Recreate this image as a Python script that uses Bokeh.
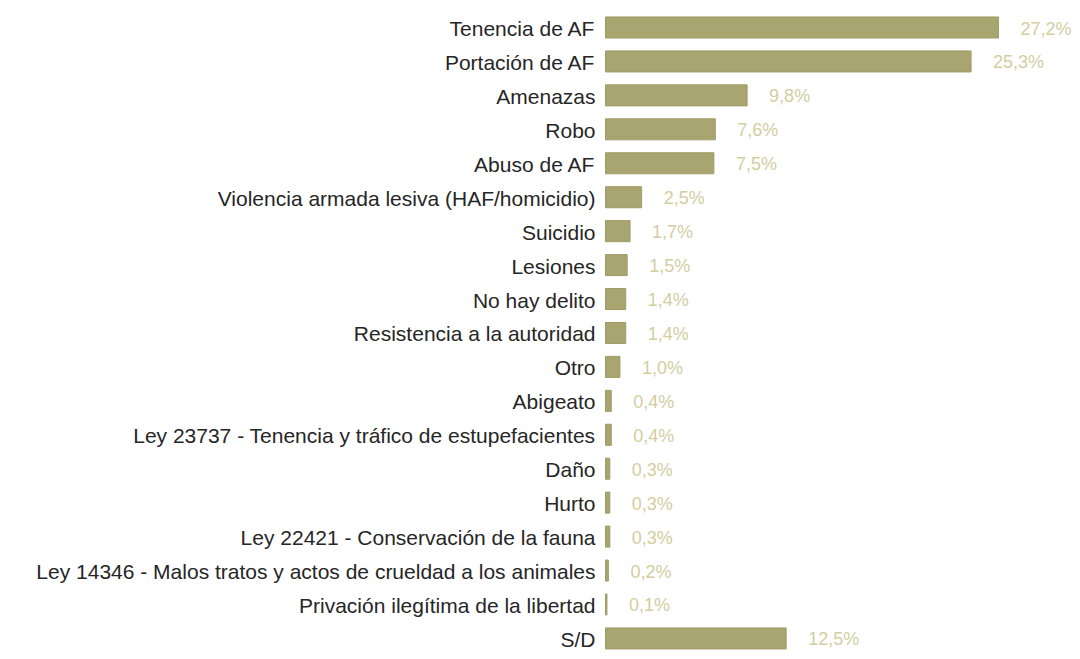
from bokeh.plotting import figure
from bokeh.models import ColumnDataSource, Range1d
from bokeh.core.properties import value
from bokeh.embed import file_html
from bokeh.resources import INLINE

categories = [
    "Tenencia de AF",
    "Portación de AF",
    "Amenazas",
    "Robo",
    "Abuso de AF",
    "Violencia armada lesiva (HAF/homicidio)",
    "Suicidio",
    "Lesiones",
    "No hay delito",
    "Resistencia a la autoridad",
    "Otro",
    "Abigeato",
    "Ley 23737 - Tenencia y tráfico de estupefacientes",
    "Daño",
    "Hurto",
    "Ley 22421 - Conservación de la fauna",
    "Ley 14346 - Malos tratos y actos de crueldad a los animales",
    "Privación ilegítima de la libertad",
    "S/D",
]
values = [27.2, 25.3, 9.8, 7.6, 7.5, 2.5, 1.7, 1.5, 1.4, 1.4, 1.0,
          0.4, 0.4, 0.3, 0.3, 0.3, 0.2, 0.1, 12.5]
value_labels = ["27,2%", "25,3%", "9,8%", "7,6%", "7,5%", "2,5%", "1,7%",
                "1,5%", "1,4%", "1,4%", "1,0%", "0,4%", "0,4%", "0,3%",
                "0,3%", "0,3%", "0,2%", "0,1%", "12,5%"]

rows = list(range(len(categories)))
src = ColumnDataSource(dict(y=rows, v=values, cat=categories, lab=value_labels,
                            zero=[0] * len(rows)))

W, H = 1076, 652
px_per_unit = 14.45
x0_px = 605
row_px = 33.94
top_px = 27

p = figure(width=W, height=H, output_backend="svg", toolbar_location=None,
           x_range=Range1d(-x0_px / px_per_unit, (W - x0_px) / px_per_unit),
           y_range=Range1d((H - top_px) / row_px, -top_px / row_px),
           min_border=0, min_border_left=0, min_border_right=0,
           min_border_top=0, min_border_bottom=0)
p.axis.visible = False
p.grid.visible = False
p.outline_line_color = None
p.background_fill_color = "white"
p.border_fill_color = "white"

p.hbar(y="y", left="zero", right="v", height=0.62, source=src,
       fill_color="#a8a570", line_color="#a09c68", line_width=1)

p.text(x="zero", y="y", text="cat", source=src, x_offset=-10, y_offset=1,
       text_align="right", text_baseline="middle",
       text_font=value("Liberation Sans"), text_font_size="21px",
       text_color="#262626")

p.text(x="v", y="y", text="lab", source=src, x_offset=22, y_offset=1,
       text_align="left", text_baseline="middle",
       text_font=value("Liberation Sans"), text_font_size="18px",
       text_color="#d2cea0")

open("out.html", "w").write(file_html(p, INLINE))
